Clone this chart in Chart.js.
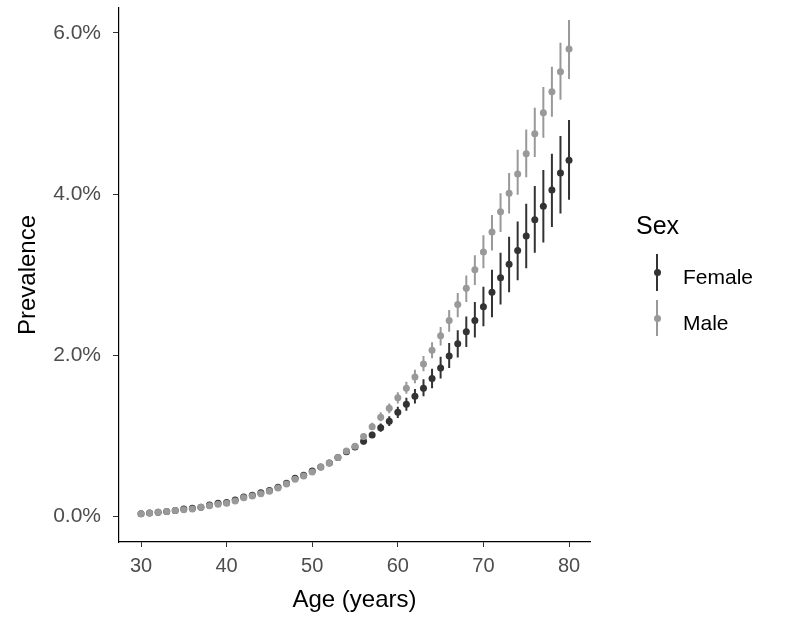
<!DOCTYPE html>
<html>
<head>
<meta charset="utf-8">
<script src="https://cdn.jsdelivr.net/npm/chart.js@4.4.1/dist/chart.umd.min.js"></script>
<style>
  body { margin: 0; background: #fff; }
  #wrap { position: relative; width: 786px; height: 620px; }
  .lg { position: absolute; font-family: "Liberation Sans", Arial, sans-serif; color: #000; white-space: nowrap; }
  .key { position: absolute; width: 2px; }
  .dot { position: absolute; width: 7px; height: 7px; border-radius: 50%; }
</style>
</head>
<body>
<div id="wrap">
  <canvas id="myChart" width="786" height="620"></canvas>
  <div class="lg" style="left:636px; top:211px; font-size:25px; line-height:28px;">Sex</div>
  <div class="key" style="left:656px; top:254px; height:37px; background:#333333;"></div>
  <div class="dot" style="left:653.5px; top:268.5px; background:#333333;"></div>
  <div class="lg" style="left:683px; top:265px; font-size:21px; line-height:24px;">Female</div>
  <div class="key" style="left:656px; top:300px; height:36px; background:#999999;"></div>
  <div class="dot" style="left:653.5px; top:314.5px; background:#999999;"></div>
  <div class="lg" style="left:683px; top:311px; font-size:21px; line-height:24px;">Male</div>
</div>
<script>
// age in years
const ages = [30, 31, 32, 33, 34, 35, 36, 37, 38, 39,
              40, 41, 42, 43, 44, 45, 46, 47, 48, 49,
              50, 51, 52, 53, 54, 55, 56, 57, 58, 59,
              60, 61, 62, 63, 64, 65, 66, 67, 68, 69,
              70, 71, 72, 73, 74, 75, 76, 77, 78, 79, 80];

// prevalence in %, point estimate and interval
const femaleMid = [0.03, 0.04, 0.05, 0.06, 0.07, 0.09, 0.10, 0.11, 0.14, 0.16,
                   0.17, 0.20, 0.24, 0.26, 0.29, 0.32, 0.36, 0.41, 0.47, 0.51,
                   0.56, 0.61, 0.66, 0.73, 0.80, 0.86, 0.93, 1.01, 1.10, 1.18,
                   1.29, 1.39, 1.49, 1.59, 1.71, 1.84, 1.99, 2.14, 2.29, 2.43,
                   2.60, 2.78, 2.96, 3.13, 3.30, 3.48, 3.68, 3.85, 4.05, 4.26, 4.42];
const femaleLow = [0.02, 0.03, 0.04, 0.05, 0.06, 0.07, 0.08, 0.09, 0.12, 0.14,
                   0.15, 0.18, 0.21, 0.23, 0.26, 0.29, 0.33, 0.38, 0.44, 0.48,
                   0.53, 0.58, 0.63, 0.70, 0.77, 0.83, 0.89, 0.97, 1.05, 1.12,
                   1.22, 1.31, 1.40, 1.49, 1.59, 1.71, 1.84, 1.97, 2.10, 2.22,
                   2.36, 2.47, 2.63, 2.78, 2.93, 3.08, 3.27, 3.40, 3.59, 3.76, 3.93];
const femaleHigh = [0.04, 0.05, 0.06, 0.07, 0.08, 0.11, 0.12, 0.13, 0.16, 0.18,
                    0.19, 0.22, 0.27, 0.29, 0.32, 0.35, 0.39, 0.44, 0.50, 0.54,
                    0.59, 0.64, 0.69, 0.76, 0.83, 0.89, 0.97, 1.05, 1.15, 1.24,
                    1.36, 1.47, 1.58, 1.70, 1.83, 1.98, 2.15, 2.31, 2.48, 2.66,
                    2.85, 3.06, 3.27, 3.47, 3.66, 3.88, 4.10, 4.30, 4.50, 4.72, 4.92];

const maleMid = [0.03, 0.04, 0.05, 0.06, 0.07, 0.08, 0.09, 0.11, 0.13, 0.15,
                 0.16, 0.19, 0.23, 0.25, 0.28, 0.31, 0.35, 0.40, 0.46, 0.50,
                 0.55, 0.61, 0.66, 0.73, 0.81, 0.87, 0.99, 1.11, 1.23, 1.34,
                 1.47, 1.59, 1.73, 1.89, 2.06, 2.24, 2.43, 2.63, 2.83, 3.06,
                 3.28, 3.53, 3.78, 4.01, 4.25, 4.50, 4.75, 5.01, 5.27, 5.52, 5.80];
const maleLow = [0.02, 0.03, 0.04, 0.05, 0.06, 0.07, 0.08, 0.10, 0.12, 0.14,
                 0.15, 0.17, 0.21, 0.23, 0.26, 0.29, 0.33, 0.38, 0.43, 0.47,
                 0.52, 0.58, 0.63, 0.70, 0.78, 0.84, 0.95, 1.07, 1.18, 1.28,
                 1.40, 1.52, 1.65, 1.80, 1.96, 2.12, 2.29, 2.47, 2.66, 2.87,
                 3.08, 3.30, 3.53, 3.76, 3.99, 4.21, 4.46, 4.70, 4.96, 5.17, 5.43];
const maleHigh = [0.04, 0.05, 0.06, 0.07, 0.08, 0.09, 0.10, 0.12, 0.14, 0.16,
                  0.17, 0.21, 0.25, 0.27, 0.30, 0.33, 0.37, 0.42, 0.49, 0.53,
                  0.58, 0.64, 0.69, 0.76, 0.84, 0.90, 1.03, 1.16, 1.29, 1.40,
                  1.54, 1.67, 1.82, 1.99, 2.16, 2.35, 2.56, 2.77, 2.99, 3.24,
                  3.49, 3.74, 4.01, 4.26, 4.55, 4.80, 5.07, 5.33, 5.58, 5.88, 6.16];

const xTicks = [30, 40, 50, 60, 70, 80];
const yTicks = [0, 2, 4, 6];

const FONT = '"Liberation Sans", Arial, sans-serif';

// vertical interval lines, drawn just before each dataset's points
const errorBars = {
    id: 'errorBars',
    beforeDatasetDraw(chart, args) {
        const ds = chart.data.datasets[args.index];
        const x = chart.scales.x;
        const y = chart.scales.y;
        const ctx = chart.ctx;
        ctx.save();
        ctx.strokeStyle = ds.borderColor;
        ctx.lineWidth = 2;
        ctx.beginPath();
        ages.forEach((a, i) => {
            const px = x.getPixelForValue(a);
            ctx.moveTo(px, y.getPixelForValue(ds.low[i]));
            ctx.lineTo(px, y.getPixelForValue(ds.high[i]));
        });
        ctx.stroke();
        ctx.restore();
    }
};

const ctx = document.getElementById('myChart').getContext('2d');
new Chart(ctx, {
    type: 'scatter',
    data: {
        datasets: [
            {
                label: 'Female',
                data: ages.map((a, i) => ({ x: a, y: femaleMid[i] })),
                low: femaleLow,
                high: femaleHigh,
                backgroundColor: '#333333',
                borderColor: '#333333',
                pointRadius: 3.5,
                pointBorderWidth: 0,
                order: 1,
            },
            {
                // drawn over the female points, as in the original
                label: 'Male',
                data: ages.map((a, i) => ({ x: a, y: maleMid[i] })),
                low: maleLow,
                high: maleHigh,
                backgroundColor: '#999999',
                borderColor: '#999999',
                pointRadius: 3.5,
                pointBorderWidth: 0,
                order: 0,
            },
        ],
    },
    options: {
        responsive: false,
        animation: false,
        layout: { padding: { top: 8, right: 196, bottom: 0, left: 0 } },
        plugins: {
            legend: { display: false },
            tooltip: { enabled: false },
        },
        scales: {
            x: {
                type: 'linear',
                min: 27.43,
                max: 82.45,
                afterBuildTicks: (s) => { s.ticks = xTicks.map(v => ({ value: v })); },
                afterFit: (s) => { s.height = 78; s.paddingLeft = 0; s.paddingRight = 0; },
                border: { display: true, color: '#000', width: 1.2 },
                grid: { drawOnChartArea: false, drawTicks: true, tickLength: 5, color: '#333' },
                ticks: { color: '#4d4d4d', padding: 7, font: { family: FONT, size: 20 } },
                title: {
                    display: true,
                    text: 'Age (years)',
                    color: '#000',
                    font: { family: FONT, size: 24 },
                    padding: { top: 0, bottom: 5 },
                },
            },
            y: {
                type: 'linear',
                min: -0.32,
                max: 6.31,
                afterBuildTicks: (s) => { s.ticks = yTicks.map(v => ({ value: v })); },
                afterFit: (s) => { s.width = 119; s.paddingTop = 0; s.paddingBottom = 0; },
                border: { display: true, color: '#000', width: 1.2 },
                grid: { drawOnChartArea: false, drawTicks: true, tickLength: 6, color: '#333' },
                ticks: {
                    color: '#4d4d4d',
                    padding: 12,
                    font: { family: FONT, size: 21 },
                    callback: (v) => v.toFixed(1) + '%',
                },
                title: {
                    display: true,
                    text: 'Prevalence',
                    color: '#000',
                    font: { family: FONT, size: 24 },
                    padding: { top: 14, bottom: 0 },
                },
            },
        },
    },
    plugins: [errorBars],
});
</script>
</body>
</html>
